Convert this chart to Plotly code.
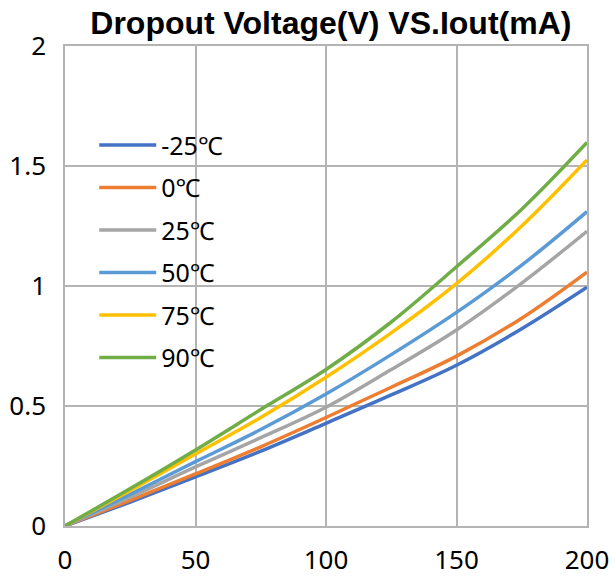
import plotly.graph_objects as go

# Output current (mA) sample points
iout_ma = [0, 25, 50, 75, 100, 125, 150, 175, 200]

# Dropout voltage (V) per ambient temperature
vdo_m25 = [0, 0.100, 0.205, 0.312, 0.428, 0.546, 0.670, 0.822, 0.995]
vdo_0 = [0, 0.107, 0.217, 0.330, 0.452, 0.578, 0.708, 0.866, 1.058]
vdo_25 = [0, 0.120, 0.246, 0.368, 0.495, 0.652, 0.817, 1.012, 1.228]
vdo_50 = [0, 0.132, 0.268, 0.402, 0.550, 0.714, 0.890, 1.087, 1.310]
vdo_75 = [0, 0.148, 0.300, 0.452, 0.620, 0.805, 1.010, 1.250, 1.525]
vdo_90 = [0, 0.156, 0.317, 0.485, 0.652, 0.850, 1.080, 1.320, 1.598]

series_names = ["-25℃", "0℃", "25℃", "50℃", "75℃", "90℃"]
series_values = [vdo_m25, vdo_0, vdo_25, vdo_50, vdo_75, vdo_90]
series_colors = ["#4472C4", "#ED7D31", "#A5A5A5", "#5B9BD5", "#FFC000", "#70AD47"]

x_ticks = [0, 50, 100, 150, 200]
y_ticks = [0, 0.5, 1, 1.5, 2]
y_tick_text = ["0", "0.5", "1", "1.5", "2"]

GRID = "#B4B4B4"
TICK_FONT = dict(family="Noto Sans", size=26, color="#000000")

fig = go.Figure()
for name, vals, color in zip(series_names, series_values, series_colors):
    fig.add_trace(go.Scatter(
        x=iout_ma, y=vals, name=name, mode="lines",
        line=dict(color=color, width=3.5, shape="spline", smoothing=1.0),
        legendgroup=name,
    ))

fig.update_layout(
    width=615, height=579,
    margin=dict(l=65, r=28, t=46, b=53),
    paper_bgcolor="white", plot_bgcolor="white",
    title=dict(
        text="<b>Dropout Voltage(V) VS.Iout(mA)</b>",
        font=dict(family="Liberation Sans", size=32, color="#000000"),
        x=0.538, xanchor="center", y=0.960, yanchor="middle",
    ),
    showlegend=True,
    legend=dict(
        x=0.056, y=0.841, xanchor="left", yanchor="top",
        font=dict(family="Noto Sans", size=25, color="#000000"),
        bgcolor="rgba(0,0,0,0)", itemwidth=57, tracegroupgap=7,
    ),
)

fig.update_xaxes(
    range=[0, 200], tickvals=x_ticks, ticktext=[str(v) for v in x_ticks],
    showgrid=True, gridcolor=GRID, gridwidth=1.5,
    showline=True, linecolor=GRID, linewidth=1.5, mirror=True,
    zeroline=False, ticks="outside", ticklen=10, tickcolor="rgba(0,0,0,0)",
    tickfont=TICK_FONT, automargin=False,
)
fig.update_yaxes(
    range=[0, 2], tickvals=y_ticks, ticktext=y_tick_text,
    showgrid=True, gridcolor=GRID, gridwidth=1.5,
    showline=True, linecolor=GRID, linewidth=1.5, mirror=True,
    zeroline=False, ticks="outside", ticklen=12, tickcolor="rgba(0,0,0,0)",
    tickfont=TICK_FONT, automargin=False,
)

fig.write_html("out.html")
